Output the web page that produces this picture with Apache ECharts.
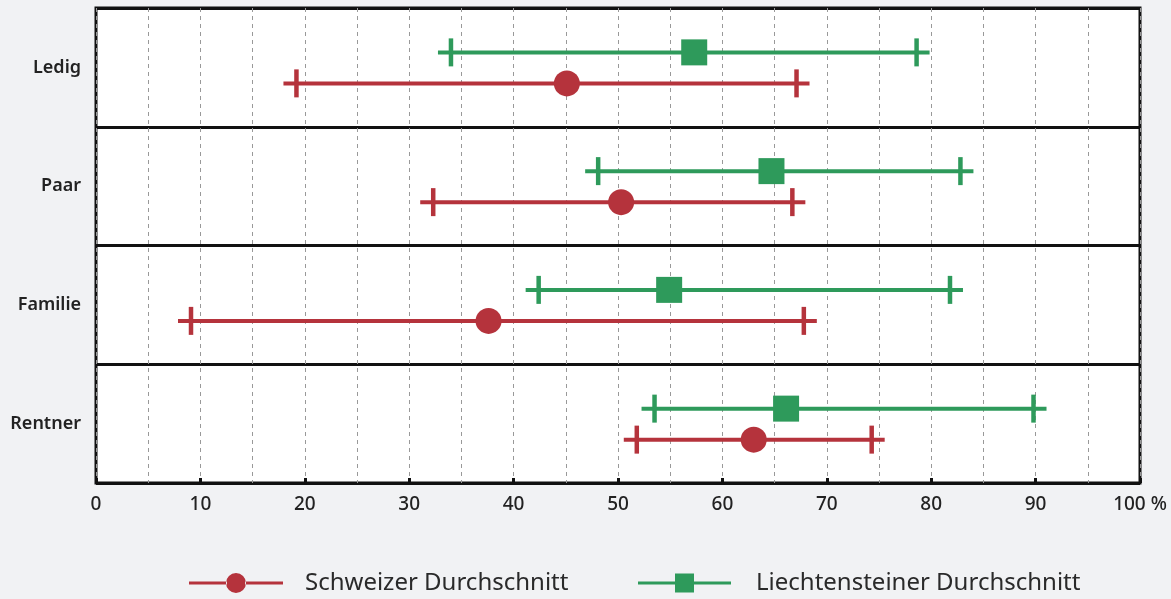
<!DOCTYPE html>
<html><head><meta charset="utf-8">
<script src="https://cdn.jsdelivr.net/npm/echarts@6/dist/echarts.min.js"></script>
<style>html,body{margin:0;padding:0;background:#f1f2f4}#c{width:1171px;height:599px}</style>
</head><body><div id="c"></div>
<script>
const categories = ['Ledig', 'Paar', 'Familie', 'Rentner'];
// [min, average, max] per category
const schweizer = [[19.2, 45.1, 67.1], [32.3, 50.3, 66.7], [9.1, 37.6, 67.8], [51.8, 63.0, 74.3]];
const liechtenstein = [[34.0, 57.3, 78.6], [48.1, 64.7, 82.8], [42.4, 54.9, 81.8], [53.5, 66.1, 89.8]];
const xTicks = [0, 10, 20, 30, 40, 50, 60, 70, 80, 90, 100];
const seriesNames = ['Schweizer Durchschnitt', 'Liechtensteiner Durchschnitt'];

const RED = '#b5333c', GREEN = '#2e9a5b';
const FONT = '"Noto Sans", "Open Sans", sans-serif';

function makeRender(color, offset, marker) {
  return function (params, api) {
    const ci = api.value(3);
    const y = api.coord([0, ci])[1] + offset;
    const xl = api.coord([api.value(0), ci])[0];
    const xm = api.coord([api.value(1), ci])[0];
    const xh = api.coord([api.value(2), ci])[0];
    const ext = 13, half = 14, ms = 26;
    const st = { stroke: color, lineWidth: 4 };
    const children = [
      { type: 'line', shape: { x1: xl - ext, y1: y, x2: xh + ext, y2: y }, style: st },
      { type: 'line', shape: { x1: xl, y1: y - half, x2: xl, y2: y + half }, style: { stroke: color, lineWidth: 4.5 } },
      { type: 'line', shape: { x1: xh, y1: y - half, x2: xh, y2: y + half }, style: { stroke: color, lineWidth: 4.5 } }
    ];
    if (marker === 'circle') {
      children.push({ type: 'circle', shape: { cx: xm, cy: y, r: ms / 2 }, style: { fill: color } });
    } else {
      children.push({ type: 'rect', shape: { x: xm - ms / 2, y: y - ms / 2, width: ms, height: ms }, style: { fill: color } });
    }
    return { type: 'group', children: children };
  };
}

const circleIcon = 'path://M0 8.5 H38 V11.5 H0 Z M56 8.5 H94 V11.5 H56 Z M37 10 A10 10 0 1 0 57 10 A10 10 0 1 0 37 10 Z';
const squareIcon = 'path://M0 8.5 H38 V11.5 H0 Z M55 8.5 H93 V11.5 H55 Z M37 0.5 H56 V19.5 H37 Z';

const chart = echarts.init(document.getElementById('c'));
chart.setOption({
  backgroundColor: '#f1f2f4',
  animation: false,
  grid: { left: 96, right: 31, top: 8, bottom: 116, show: true, backgroundColor: '#ffffff', borderColor: '#111', borderWidth: 3 },
  legend: [
    { data: [{ name: seriesNames[0], icon: circleIcon }], left: 189, top: 571, padding: 0, itemWidth: 94, itemHeight: 20,
      textStyle: { fontFamily: FONT, fontSize: 24, color: '#2a2a2a', padding: [0, 0, 0, 17] } },
    { data: [{ name: seriesNames[1], icon: squareIcon }], left: 638, top: 571, padding: 0, itemWidth: 93, itemHeight: 20,
      textStyle: { fontFamily: FONT, fontSize: 24, color: '#2a2a2a', padding: [0, 0, 0, 20] } }
  ],
  xAxis: {
    type: 'value', min: xTicks[0], max: xTicks[xTicks.length - 1], interval: 10,
    axisLine: { show: false },
    axisTick: { show: true, inside: true, length: 5, lineStyle: { color: '#111', width: 3 } },
    minorTick: { show: false, splitNumber: 2 },
    splitLine: { show: true, lineStyle: { color: '#999', type: [4, 4], width: 1 } },
    minorSplitLine: { show: true, lineStyle: { color: '#999', type: [4, 4], width: 1 } },
    axisLabel: { fontFamily: FONT, fontSize: 19, fontWeight: 500, color: '#222', margin: 12,
      formatter: v => v === 100 ? '100 %' : String(v) }
  },
  yAxis: {
    type: 'category', data: categories, inverse: true, boundaryGap: true,
    axisLine: { show: false }, axisTick: { show: false },
    splitLine: { show: true, lineStyle: { color: '#111', width: 3 } },
    axisLabel: { fontFamily: FONT, fontSize: 18, fontWeight: 600, color: '#222', margin: 15 }
  },
  series: [
    { type: 'custom', name: seriesNames[0], color: RED, renderItem: makeRender(RED, 16, 'circle'),
      encode: { x: [0, 1, 2], y: 3 },
      data: schweizer.map((d, i) => [d[0], d[1], d[2], i]) },
    { type: 'custom', name: seriesNames[1], color: GREEN, renderItem: makeRender(GREEN, -15, 'square'),
      encode: { x: [0, 1, 2], y: 3 },
      data: liechtenstein.map((d, i) => [d[0], d[1], d[2], i]) }
  ]
});
</script></body></html>
